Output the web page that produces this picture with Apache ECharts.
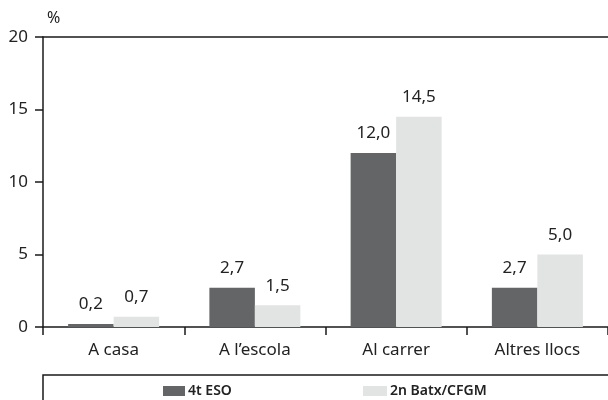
<!DOCTYPE html>
<html><head><meta charset="utf-8">
<script src="https://cdn.jsdelivr.net/npm/echarts@6/dist/echarts.min.js"></script>
<style>html,body{margin:0;padding:0;background:#fff}#c{width:608px;height:400px}</style>
</head><body><div id="c"></div>
<script>
var categories = ['A casa', 'A l\u2019escola', 'Al carrer', 'Altres llocs'];
var seriesNames = ['4t ESO', '2n Batx/CFGM'];
var eso4 = [0.2, 2.7, 12.0, 2.7];
var batx2 = [0.7, 1.5, 14.5, 5.0];
var yTicks = [0, 5, 10, 15, 20];

var FONT = 'Noto Sans';
var chart = echarts.init(document.getElementById('c'), null, {renderer: 'canvas'});
function fmt(p){ return p.value.toFixed(1).replace('.', ','); }
var labelCfg = {show: true, position: 'top', distance: 11, formatter: fmt, fontFamily: FONT, fontSize: 17, color: '#222'};
var legendText = {fontFamily: FONT, fontSize: 14, fontWeight: 600, color: '#222', padding: [0,0,0,-2]};
chart.setOption({
  animation: false,
  grid: {left: 43, top: 37, width: 567, height: 290},
  legend: [
    {data: [seriesNames[0]], left: 163, top: 384, padding: 0, itemWidth: 22, itemHeight: 10, itemGap: 0,
     textStyle: legendText, icon: 'rect'},
    {data: [seriesNames[1]], left: 363, top: 384, padding: 0, itemWidth: 24, itemHeight: 10, itemGap: 0,
     textStyle: legendText, icon: 'rect'}
  ],
  xAxis: [{
    type: 'category', data: categories, position: 'bottom',
    axisLine: {lineStyle: {color: '#1a1a1a', width: 1.5}},
    axisTick: {show: true, length: 8, inside: false, lineStyle: {color: '#1a1a1a', width: 1.5}},
    axisLabel: {fontFamily: FONT, fontSize: 17, color: '#222', margin: 15}
  }, {
    type: 'category', data: categories, position: 'top',
    axisLine: {show: true, lineStyle: {color: '#1a1a1a', width: 1.5}},
    axisTick: {show: false}, axisLabel: {show: false}
  }],
  yAxis: {
    type: 'value', min: yTicks[0], max: yTicks[yTicks.length - 1], interval: 5,
    name: '%', nameLocation: 'end', nameGap: 19,
    nameTextStyle: {fontFamily: FONT, fontSize: 16, color: '#222', align: 'left', verticalAlign: 'middle', padding: [0, 0, 0, 4]},
    axisLine: {show: true, lineStyle: {color: '#1a1a1a', width: 1.5}},
    axisTick: {show: true, length: 8, lineStyle: {color: '#1a1a1a', width: 1.5}},
    axisLabel: {fontFamily: FONT, fontSize: 17, color: '#222', margin: 15},
    splitLine: {show: false}
  },
  graphic: [{
    type: 'rect', shape: {x: 43, y: 375, width: 620, height: 100},
    style: {fill: 'none', stroke: '#1a1a1a', lineWidth: 1.5}
  }],
  series: [
    {name: seriesNames[0], type: 'bar', data: eso4, barWidth: 45.5, barGap: '0%',
     itemStyle: {color: '#646566'}, label: labelCfg},
    {name: seriesNames[1], type: 'bar', data: batx2, barWidth: 45.5, barGap: '0%',
     itemStyle: {color: '#e2e3e3'}, label: labelCfg}
  ]
});
</script></body></html>
